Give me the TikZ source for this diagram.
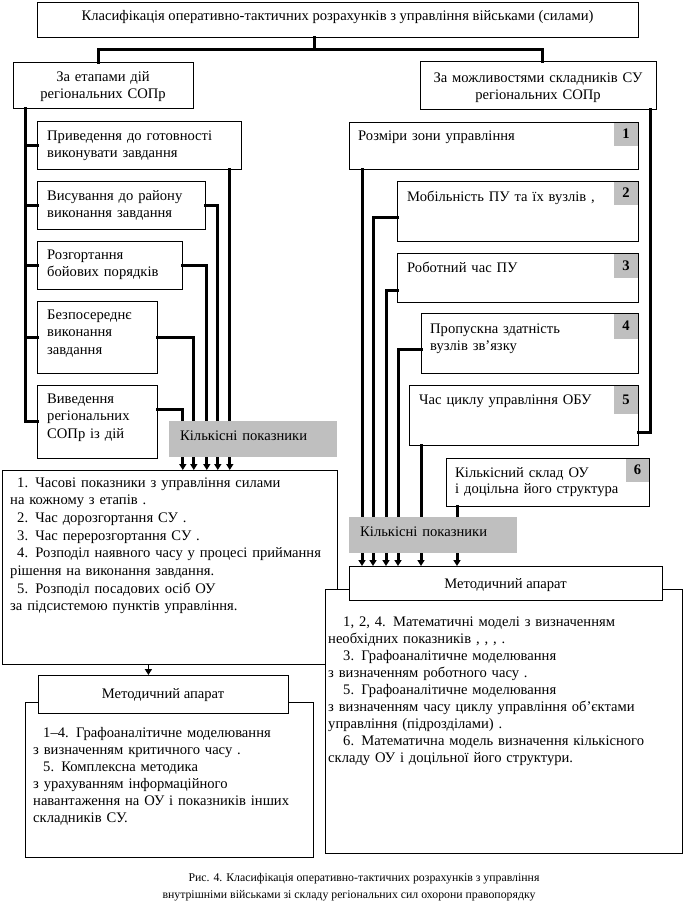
\documentclass[tikz,border=0pt]{standalone}
\usepackage{fontspec}
\setmainfont{Liberation Serif}
\usetikzlibrary{arrows.meta,calc}
\newcommand\mfs{\fontsize{14.6}{17.7}\selectfont}
\begin{document}
\begin{tikzpicture}[x=1pt,y=-1pt,
  box/.style={draw, line width=0.8pt, fill=white, inner sep=0pt, anchor=north west},
  numbox/.style={fill=gray!50, inner sep=0pt, anchor=north east, minimum width=24.5pt, font=\fontsize{14.6}{17}\selectfont\bfseries},
  greybox/.style={fill=gray!50, inner sep=0pt, anchor=north west},
  txt/.style={anchor=base west, inner sep=0pt, align=left, text width=#1, font=\mfs},
  txt/.default=300pt,
  ctxt/.style={anchor=base, inner sep=0pt, align=center, text width=#1, font=\mfs},
  conn/.style={line width=3pt, line cap=rect, line join=miter},
  arr/.style={conn, -{Triangle[length=6pt,width=7pt]}},
  thinarr/.style={line width=1.6pt, -{Triangle[length=6pt,width=7pt]}},
]
\useasboundingbox (0,0) rectangle (686,908);
\fill[white] (0,0) rectangle (686,908);

% top level
\node[box, minimum width=601pt, minimum height=35pt] (T) at (37,2) {};
\node[anchor=base, inner sep=0pt, font=\mfs] (Tt) at (337.5,20) {Класифікація оперативно-тактичних розрахунків з управління військами (силами)};
\node[box, minimum width=180pt, minimum height=46pt] (LH) at (13,62) {};
\node[ctxt=178pt] (LHt) at (103,81) {За етапами дій\\регіональних СОПр};
\node[box, minimum width=236pt, minimum height=48pt] (RH) at (420,61) {};
\node[ctxt=234pt] (RHt) at (538,82) {За можливостями складників СУ\\регіональних СОПр};

% left column
\node[box, minimum width=204pt, minimum height=48pt] (L1) at (37,121) {};
\node[txt=195pt] (L1t) at (47,140) {Приведення до готовності\\виконувати завдання};
\node[box, minimum width=168pt, minimum height=48pt] (L2) at (37,181) {};
\node[txt=160pt] (L2t) at (47,200) {Висування до району\\виконання завдання};
\node[box, minimum width=145pt, minimum height=48pt] (L3) at (37,241) {};
\node[txt=140pt] (L3t) at (47,259) {Розгортання\\бойових порядків};
\node[box, minimum width=120pt, minimum height=72pt] (L4) at (37,301) {};
\node[txt=110pt] (L4t) at (47,319) {Безпосереднє\\виконання\\завдання};
\node[box, minimum width=120pt, minimum height=73pt] (L5) at (37,385) {};
\node[txt=110pt] (L5t) at (47,403) {Виведення\\регіональних\\СОПр із дій};

% right column
\node[box, minimum width=289pt, minimum height=47pt] (R1) at (349,122) {};
\node[numbox, minimum height=23pt] (N1) at ($(R1.north east)+(-0.4,0.4)$) {1};
\node[txt] (R1t) at (358,140) {Розміри зони управління};
\node[box, minimum width=241pt, minimum height=60pt] (R2) at (397,181) {};
\node[numbox, minimum height=23pt] (N2) at ($(R2.north east)+(-0.4,0.4)$) {2};
\node[txt] (R2t) at (407,201) {Мобільність ПУ та їх вузлів ,};
\node[box, minimum width=241pt, minimum height=49pt] (R3) at (397,253) {};
\node[numbox, minimum height=24pt] (N3) at ($(R3.north east)+(-0.4,0.4)$) {3};
\node[txt] (R3t) at (407,272) {Роботний час ПУ};
\node[box, minimum width=217pt, minimum height=60pt] (R4) at (421,313) {};
\node[numbox, minimum height=25pt] (N4) at ($(R4.north east)+(-0.4,0.4)$) {4};
\node[txt] (R4t) at (430,333) {Пропускна здатність\\вузлів зв’язку};
\node[box, minimum width=229pt, minimum height=60pt] (R5) at (409,385) {};
\node[numbox, minimum height=28pt] (N5) at ($(R5.north east)+(-0.4,0.4)$) {5};
\node[txt] (R5t) at (419,404) {Час циклу управління ОБУ};
\node[box, minimum width=203pt, minimum height=48pt] (R6) at (446,458) {};
\node[numbox, minimum height=23pt, minimum width=23.5pt] (N6) at ($(R6.north east)+(-0.4,0.4)$) {6};
\node[txt, font=\fontsize{14.6}{16.5}\selectfont] (R6t) at (455,477) {Кількісний склад ОУ\\і доцільна його структура};

% left results box
\node[box, minimum width=335pt, minimum height=194pt] (LB) at (2,470) {};
\node[txt=330pt] (LBt) at (10,487) {\hspace*{7pt}1. Часові показники з управління силами\\на кожному з етапів .\\\hspace*{7pt}2. Час дорозгортання СУ .\\\hspace*{7pt}3. Час перерозгортання СУ .\\\hspace*{7pt}4. Розподіл наявного часу у процесі приймання\\рішення на виконання завдання.\\\hspace*{7pt}5. Розподіл посадових осіб ОУ\\за підсистемою пунктів управління.};

% right results
\node[box, minimum width=357pt, minimum height=264pt] (RB) at (325,589) {};
\node[txt=352pt, font=\fontsize{14.6}{17}\selectfont] (RBt) at (328,626) {\hspace*{15pt}1, 2, 4. Математичні моделі з визначенням\\необхідних показників , , , .\\\hspace*{15pt}3. Графоаналітичне моделювання\\з визначенням роботного часу .\\\hspace*{15pt}5. Графоаналітичне моделювання\\з визначенням часу циклу управління об’єктами\\управління (підрозділами) .\\\hspace*{15pt}6. Математична модель визначення кількісного\\складу ОУ і доцільної його структури.};
\node[box, minimum width=313pt, minimum height=34pt] (MR) at (349,566) {};
\node[anchor=base, inner sep=0pt, font=\mfs] (MRt) at (505.5,588) {Методичний апарат};

% bottom left
\node[box, minimum width=288pt, minimum height=155pt] (LBB) at (25,702) {};
\node[txt=280pt, font=\fontsize{14.6}{17}\selectfont] (LBBt) at (33,737) {\hspace*{10pt}1--4. Графоаналітичне моделювання\\з визначенням критичного часу .\\\hspace*{10pt}5. Комплексна методика\\з урахуванням інформаційного\\навантаження на ОУ і показників інших\\складників СУ.};
\node[box, minimum width=250pt, minimum height=38pt] (MA1) at (38,675) {};
\node[anchor=base, inner sep=0pt, font=\mfs] (MA1t) at (163,698) {Методичний апарат};

% top tree connectors
\coordinate (tj) at ($(T.south)+(-23.5,0)$);
\coordinate (hj) at ($(tj)+(0,12)$);
\draw[conn] (tj) -- (hj);
\draw[conn] ($(LH.north)+(-5,0)$) |- (hj) -| ($(RH.north)+(4,0)$);

% left trunk
\coordinate (lt) at ($(LH.south west)+(12,0)$);
\draw[conn] (lt) |- (L5.west);
\foreach \n in {L1,L2,L3,L4} \draw[conn] (\n.west) -- (\n.west -| lt);

% right trunk
\coordinate (rt) at ($(RH.south east)+(-6,0)$);
\coordinate (r5b) at ($(R5.south east)+(0,-13)$);
\draw[conn] (rt) |- (r5b);
\draw[conn] ($(R1.south east)+(0,-11)$) -- ($(R1.south east)+(0,-11)$ -| rt);
\draw[conn] ($(R2.north east)+(0,28)$) -- ($(R2.north east)+(0,28)$ -| rt);
\draw[conn] ($(R3.south east)+(0,-20)$) -- ($(R3.south east)+(0,-20)$ -| rt);
\draw[conn] ($(R4.north east)+(0,28)$) -- ($(R4.north east)+(0,28)$ -| rt);

% left column to results
\coordinate (c1) at ($(L1.south east)+(-12,0)$);
\draw[arr] (c1) -- (c1 |- LB.north);
\coordinate (c2) at ($(L2.east)+(12,0)$);
\draw[arr] (L2.east) -- (c2) -- (c2 |- LB.north);
\coordinate (c3) at ($(L3.east)+(24,0)$);
\draw[arr] (L3.east) -- (c3) -- (c3 |- LB.north);
\coordinate (c4) at ($(L4.east)+(36,0)$);
\draw[arr] (L4.east) -- (c4) -- (c4 |- LB.north);
\coordinate (c5s) at ($(L5.north east)+(0,24)$);
\coordinate (c5) at ($(c5s)+(25,0)$);
\draw[arr] (c5s) -- (c5) -- (c5 |- LB.north);

% right column to methodics
\coordinate (d1) at ($(R1.south west)+(13,0)$);
\draw[arr] (d1) -- (d1 |- MR.north);
\coordinate (d2s) at ($(R2.north west)+(0,36)$);
\coordinate (d2) at ($(d2s)+(-24,0)$);
\draw[arr] (d2s) -- (d2) -- (d2 |- MR.north);
\coordinate (d3s) at ($(R3.south west)+(0,-12)$);
\coordinate (d3) at ($(d3s)+(-11,0)$);
\draw[arr] (d3s) -- (d3) -- (d3 |- MR.north);
\coordinate (d4s) at ($(R4.south west)+(0,-24)$);
\coordinate (d4) at ($(d4s)+(-23,0)$);
\draw[arr] (d4s) -- (d4) -- (d4 |- MR.north);
\coordinate (d5) at ($(R5.south west)+(12,0)$);
\draw[arr] (d5) -- (d5 |- MR.north);
\coordinate (d6) at ($(R6.south west)+(11,0)$);
\draw[arr] (d6) -- (d6 |- MR.north);

% results to methodics (left)
\coordinate (m1) at ($(MA1.north)+(-15,0)$);
\draw[thinarr] (LB.south -| m1) -- (m1);

% grey labels
\node[greybox, minimum width=168pt, minimum height=36pt] (G1) at (169,421) {};
\node[txt] (G1t) at (180,440) {Кількісні показники};
\node[greybox, minimum width=168pt, minimum height=36pt] (G2) at (349,517) {};
\node[txt] (G2t) at (360,536) {Кількісні показники};

% caption
\node[anchor=base, inner sep=0pt, font=\fontsize{11.8}{17}\selectfont] (cap1) at (364,881) {Рис. 4. Класифікація оперативно-тактичних розрахунків з управління};
\node[anchor=base, inner sep=0pt, font=\fontsize{11.8}{17}\selectfont] (cap2) at (349,898) {внутрішніми військами зі складу регіональних сил охорони правопорядку};
\end{tikzpicture}
\end{document}
